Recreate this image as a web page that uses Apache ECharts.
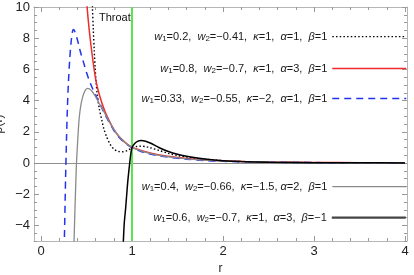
<!DOCTYPE html>
<html>
<head>
<meta charset="utf-8">
<script src="https://cdn.jsdelivr.net/npm/echarts@6/dist/echarts.min.js"></script>
<style>html,body{margin:0;padding:0;background:#fff}#c{width:414px;height:275px}</style>
</head>
<body>
<div id="c"></div>
<script>
// ---- data ----
const seriesNames = [
  'w1=0.2, w2=-0.41, k=1, a=1, b=1',
  'w1=0.8, w2=-0.7, k=1, a=3, b=1',
  'w1=0.33, w2=-0.55, k=-2, a=1, b=1',
  'w1=0.4, w2=-0.66, k=-1.5, a=2, b=1',
  'w1=0.6, w2=-0.7, k=1, a=3, b=-1'
];
const legendTexts = [
  '{i|w}{s|1}=0.2,  {i|w}{s|2}=\u22120.41,  {i|\u03ba}=1,  {i|\u03b1}=1,  {i|\u03b2}=1',
  '{i|w}{s|1}=0.8,  {i|w}{s|2}=\u22120.7,  {i|\u03ba}=1,  {i|\u03b1}=3,  {i|\u03b2}=1',
  '{i|w}{s|1}=0.33,  {i|w}{s|2}=\u22120.55,  {i|\u03ba}=\u22122,  {i|\u03b1}=1,  {i|\u03b2}=1',
  '{i|w}{s|1}=0.4,  {i|w}{s|2}=\u22120.66,  {i|\u03ba}=\u22121.5, {i|\u03b1}=2,  {i|\u03b2}=1',
  '{i|w}{s|1}=0.6,  {i|w}{s|2}=\u22120.7,  {i|\u03ba}=1,  {i|\u03b1}=3,  {i|\u03b2}=\u22121'
];

const r1   = [0.555,0.565,0.575,0.585,0.595,0.605,0.62,0.64,0.67,0.69,0.72,0.76,0.8,0.85,0.9,0.95,1.0,1.05,1.1,1.15,1.2,1.3,1.4,1.5,1.6,1.7,1.8,2.0,2.2,2.5,3.0,3.5,4.0];
const rho1 = [11.5,10.0,8.5,7.2,6.1,5.2,4.3,3.5,2.7,2.2,1.7,1.2,0.9,0.74,0.72,0.8,0.98,1.06,1.08,1.05,0.98,0.8,0.62,0.48,0.38,0.3,0.24,0.15,0.09,0.05,0.025,0.014,0.009];

const r2   = [0.48,0.49,0.5,0.52,0.55,0.6,0.65,0.7,0.75,0.8,0.85,0.9,0.95,1.0,1.1,1.2,1.3,1.4,1.5,1.6,1.8,2.0,2.25,2.5,3.0,3.5,4.0];
const rho2 = [12.2,11.3,10.5,9.1,7.5,5.4,4.2,3.35,2.7,2.15,1.75,1.45,1.2,1.01,0.8,0.64,0.52,0.43,0.35,0.29,0.2,0.14,0.095,0.065,0.035,0.02,0.013];

const r3   = [0.255,0.27,0.28,0.29,0.3,0.315,0.33,0.345,0.355,0.37,0.4,0.43,0.47,0.5,0.55,0.6,0.65,0.7,0.75,0.8,0.85,0.9,0.95,1.0,1.1,1.2,1.3,1.4,1.5,1.6,1.8,2.0,2.5,3.0,3.5,4.0];
const rho3 = [-5.5,-1.0,1.5,3.5,5.0,6.6,7.7,8.4,8.55,8.45,7.9,7.2,6.4,5.8,5.0,4.35,3.75,3.15,2.6,2.1,1.7,1.4,1.17,0.98,0.74,0.57,0.46,0.37,0.3,0.24,0.16,0.11,0.05,0.025,0.015,0.01];

const r4   = [0.36,0.37,0.38,0.39,0.4,0.41,0.42,0.435,0.45,0.47,0.49,0.51,0.53,0.56,0.6,0.65,0.7,0.75,0.8,0.85,0.9,0.95,1.0,1.1,1.2,1.3,1.4,1.5,1.6,1.8,2.0,2.5,3.0,3.5,4.0];
const rho4 = [-5.6,-3.6,-1.7,0.0,1.1,2.1,2.9,3.6,4.05,4.45,4.68,4.78,4.76,4.6,4.25,3.7,3.2,2.65,2.15,1.75,1.43,1.19,1.0,0.78,0.61,0.49,0.4,0.33,0.27,0.18,0.12,0.055,0.028,0.016,0.01];

const r5   = [0.9,0.905,0.915,0.93,0.94,0.955,0.975,0.985,1.0,1.03,1.06,1.1,1.15,1.2,1.3,1.4,1.5,1.6,1.7,1.8,2.0,2.2,2.5,3.0,3.5,4.0];
const rho5 = [-5.6,-5.0,-3.85,-2.9,-2.16,-1.1,0.0,0.5,1.0,1.25,1.39,1.45,1.4,1.28,0.98,0.74,0.56,0.43,0.33,0.25,0.15,0.095,0.05,0.022,0.012,0.007];

const xMajor = [0,1,2,3,4];
const yMajor = [-4,-2,0,2,4,6,8,10];
const throatR = 1;

// ---- build ----
const zip = (a,b) => a.map((v,i)=>[v,b[i]]);
const xMinor = []; for (let k=0;k<=20;k++){ const v=+(k*0.2).toFixed(1); if(!xMajor.includes(v)) xMinor.push(v); }
const yMinor = []; for (let k=-10;k<=20;k++){ const v=k*0.5; if(!yMajor.includes(v)) yMinor.push(v); }

const FONT = 'Liberation Sans, Arial, sans-serif';
const frameColor = '#b5b5b5';
const tickColor = '#9a9a9a';
const XMIN = -0.077, XMAX = 4.022, YMIN = -5, YMAX = 10;

function xAx(pos, ticks, len, labels, line, extra){
  return Object.assign({
    type:'value', position:pos, min:XMIN, max:XMAX,
    axisLine:{show:line, onZero:false, lineStyle:{color:frameColor,width:1}},
    axisTick:{show:true, inside:true, length:len, customValues:ticks, lineStyle:{color:tickColor,width:1}},
    axisLabel:{show:!!labels, customValues:labels||[], color:'#222', fontSize:13, fontFamily:FONT, margin:4},
    splitLine:{show:false}
  }, extra||{});
}
function yAx(pos, ticks, len, labels, line, extra){
  return Object.assign({
    type:'value', position:pos, min:YMIN, max:YMAX,
    axisLine:{show:line, onZero:false, lineStyle:{color:frameColor,width:1}},
    axisTick:{show:true, inside:true, length:len, customValues:ticks, lineStyle:{color:tickColor,width:1}},
    axisLabel:{show:!!labels, customValues:labels||[], color:'#222', fontSize:13, fontFamily:FONT, margin:4,
      formatter: v => v<0 ? '\u2212'+Math.abs(v) : String(v)},
    splitLine:{show:false}
  }, extra||{});
}

const styles = [
  {color:'#000000', width:1.4, type:[1.5,2.2]},
  {color:'#ee2a2a', width:1.5, type:'solid'},
  {color:'#2233ee', width:1.5, type:[7,5]},
  {color:'#8a8a8a', width:1.3, type:'solid'},
  {color:'#000000', width:1.5, type:'solid'}
];
const legendLineStyles = [
  {color:'#000000', width:1.4, type:[1.5,2.2]},
  {color:'#ee2a2a', width:1.5, type:'solid'},
  {color:'#2233ee', width:1.5, type:[7,5]},
  {color:'#8a8a8a', width:1.3, type:'solid'},
  {color:'#444444', width:2.4, type:'solid'}
];
const datas = [zip(r1,rho1), zip(r2,rho2), zip(r3,rho3), zip(r4,rho4), zip(r5,rho5)];
const legendCenters = [38, 70, 100, 188, 219];

const series = datas.map((d,i)=>({
  type:'line', name:seriesNames[i], data:d, showSymbol:false, symbol:'none', smooth:0.3,
  xAxisIndex:0, yAxisIndex:0, clip:true, z:3+i,
  lineStyle:{color:styles[i].color, width:styles[i].width, type:styles[i].type},
  itemStyle:{color:styles[i].color},
  animation:false
}));
// zero axis line and throat line
series[0].markLine = {
  silent:true, symbol:'none', animation:false, label:{show:false},
  data:[
    {yAxis:0, lineStyle:{color:'#8f8f8f', width:1, type:'solid'}},
    {xAxis:throatR, lineStyle:{color:'#5ee24f', width:2, type:'solid'}}
  ]
};

const legends = seriesNames.map((n,i)=>({
  show:true,
  data:[n], orient:'horizontal', align:'right', right:7, top:legendCenters[i]-7,
  padding:0, itemWidth:74, itemHeight:14, itemGap:0, selectedMode:false,
  itemStyle:{opacity:0, color:'rgba(0,0,0,0)', borderWidth:0},
  lineStyle:{color:legendLineStyles[i].color, width:legendLineStyles[i].width, type:legendLineStyles[i].type, opacity:1},
  formatter: () => legendTexts[i],
  textStyle:{fontSize:11, fontFamily:FONT, color:'#1a1a1a',
    rich:{ i:{fontStyle:'italic', fontSize:11, fontFamily:FONT}, s:{fontSize:8, fontFamily:FONT, padding:[5,0,0,0]} } }
}));

const option = {
  animation:false,
  backgroundColor:'#ffffff',
  grid:{left:34, right:7, top:7, bottom:34, containLabel:false, outerBoundsMode:'none'},
  xAxis:[
    xAx('bottom', xMajor, 5, xMajor, true, {name:'r', nameLocation:'middle', nameGap:20, nameTextStyle:{fontSize:12, fontFamily:FONT, color:'#222'}}),
    xAx('bottom', xMinor, 3, null, false),
    xAx('top', xMajor, 5, null, true),
    xAx('top', xMinor, 3, null, false)
  ],
  yAxis:[
    yAx('left', yMajor, 5, yMajor, true, {name:'\u03c1(r)', nameLocation:'middle', nameGap:19, nameTextStyle:{fontSize:12, fontFamily:FONT, color:'#222'}}),
    yAx('left', yMinor, 3, null, false),
    yAx('right', yMajor, 5, null, true),
    yAx('right', yMinor, 3, null, false)
  ],
  legend: legends,
  series: series,
  graphic:[{type:'text', left:99, top:12, style:{text:'Throat', fontSize:11, fontFamily:FONT, fill:'#111'}}]
};

const chart = echarts.init(document.getElementById('c'), null, {renderer:'canvas'});
chart.setOption(option);
</script>
</body>
</html>
